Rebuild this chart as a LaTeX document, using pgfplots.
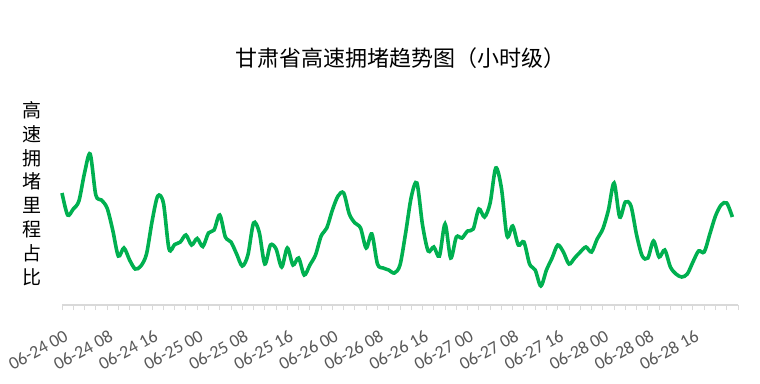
\documentclass[border=0pt]{standalone}
\usepackage{pgfplots}
\pgfplotsset{compat=1.18}
\usepackage{fontspec}
\setmainfont{Carlito}
\newfontfamily\cjk{Noto Sans CJK SC}
\definecolor{lineg}{RGB}{0,176,80}
\definecolor{axgray}{RGB}{217,217,217}
\definecolor{lblgray}{RGB}{89,89,89}
\begin{document}
\begin{tikzpicture}[x=1pt,y=1pt]
\path[use as bounding box] (0,0) rectangle (760,383);
\begin{axis}[
  at={(62pt,78pt)}, anchor=south west,
  scale only axis, width=676pt, height=205pt,
  xmin=0, xmax=120, ymin=0, ymax=205,
  axis x line=bottom, axis y line=none,
  axis line style={-, draw=axgray, line width=1.3pt},
  xtick={0,8,...,112},
  xticklabels={06-24 00,06-24 08,06-24 16,06-25 00,06-25 08,06-25 16,06-26 00,06-26 08,06-26 16,06-27 00,06-27 08,06-27 16,06-28 00,06-28 08,06-28 16},
  minor xtick={0,2,...,120},
  tick align=outside,
  major tick length=5pt, minor tick length=5pt,
  every tick/.style={draw=axgray, line width=1pt},
  x tick label style={rotate=29, anchor=north east, font=\fontsize{18}{18}\selectfont, text=lblgray, inner sep=1pt, yshift=-16pt, xshift=-7pt},
  clip=false,
]
\addplot[lineg, line width=3.6pt, smooth, tension=0.5] table {
x y
0 112
1 90
2 96
3 104
4 132
5 151
6 110
7 105
8 97
9 75
10 49
11 57
12 45
13 36
14 39
15 51
16 84
17 109
18 102
19 56
20 60.5
21 63
22 70
23 60
24 66.5
25 58.5
26 72
27 75
28 90
29 68
30 63
31 51
32 39
33 50
34 82
35 73
36 41
37 60
38 56
39 38
40 57
41 40
42 47
43 30
44 40
45 50
46 69
47 77
48 95
49 109
50 112
51 91
52 82
53 77
54 57
55 71
56 41
57 37
58 35
59 32
60 40
61 72
62 108
63 122
64 80
65 54
66 58
67 49
68 81
69 47
70 68
71 67
72 74
73 76
74 96
75 88
76 102
77 137
78 117
79 69
80 79
81 60
82 63
83 41
84 35
85 19
86 35
87 47
88 60
89 53
90 41
91 47
92 53
93 58
94 53
95 66
96 76
97 95
98 122
99 88
100 103
101 99
102 70
103 49
104 47
105 64
106 48
107 55
108 38
109 31
110 28
111 31
112 43
113 54
114 53
115 71
116 89
117 100
118 102
119 88
};
\end{axis}
\node[font=\cjk\fontsize{22}{22}\selectfont, text=black] at (400,325) {甘肃省高速拥堵趋势图（小时级）};
\node[font=\cjk\fontsize{19}{23.8}\selectfont, align=center, text=black, inner sep=0pt] at (32,189.5) {高\\速\\拥\\堵\\里\\程\\占\\比};
\end{tikzpicture}
\end{document}
